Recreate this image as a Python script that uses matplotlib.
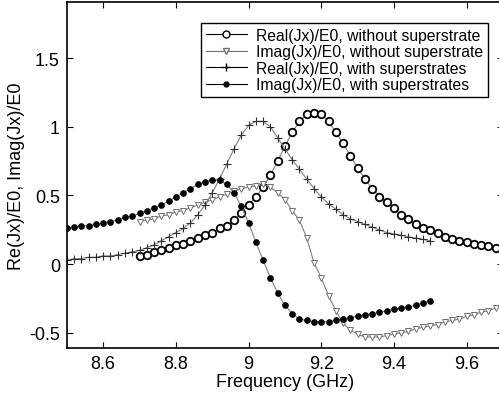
import matplotlib
matplotlib.use('Agg')
import matplotlib.pyplot as plt
from matplotlib.lines import Line2D
import numpy as np

plt.rcParams['font.family'] = ['Liberation Sans', 'DejaVu Sans']

# frequency grids (GHz), 0.02 GHz steps
f_start_wo = 8.70
f_start_w = 8.50
f_step = 0.02

# Real(Jx)/E0 without superstrate, 8.70 .. 9.70
re_wo = [0.06, 0.07, 0.09, 0.10, 0.12, 0.14, 0.15, 0.17, 0.19, 0.21,
         0.23, 0.26, 0.28, 0.32, 0.37, 0.43, 0.49, 0.56, 0.65, 0.75,
         0.86, 0.96, 1.04, 1.09, 1.10, 1.09, 1.04, 0.96, 0.88, 0.79,
         0.70, 0.62, 0.55, 0.49, 0.45, 0.41, 0.36, 0.33, 0.29, 0.26,
         0.25, 0.23, 0.20, 0.18, 0.17, 0.16, 0.15, 0.14, 0.13, 0.12, 0.11]

# Imag(Jx)/E0 without superstrate, 8.70 .. 9.70
im_wo = [0.31, 0.32, 0.33, 0.35, 0.36, 0.38, 0.39, 0.41, 0.43, 0.45,
         0.47, 0.49, 0.51, 0.53, 0.55, 0.56, 0.57, 0.58, 0.56, 0.52,
         0.47, 0.39, 0.32, 0.19, 0.01, -0.10, -0.23, -0.34, -0.43, -0.48,
         -0.51, -0.53, -0.53, -0.53, -0.52, -0.51, -0.50, -0.49, -0.47, -0.46,
         -0.45, -0.44, -0.42, -0.41, -0.40, -0.38, -0.37, -0.35, -0.34, -0.32, -0.31]

# Real(Jx)/E0 with superstrates, 8.50 .. 9.50
re_w = [0.03, 0.04, 0.04, 0.05, 0.05, 0.06, 0.06, 0.07, 0.08, 0.09,
        0.10, 0.12, 0.14, 0.17, 0.20, 0.23, 0.26, 0.30, 0.36, 0.43,
        0.52, 0.62, 0.73, 0.84, 0.94, 1.01, 1.04, 1.04, 1.00, 0.92,
        0.84, 0.76, 0.69, 0.62, 0.55, 0.49, 0.44, 0.40, 0.36, 0.33,
        0.31, 0.29, 0.27, 0.25, 0.23, 0.22, 0.21, 0.20, 0.19, 0.18, 0.17]

# Imag(Jx)/E0 with superstrates, 8.50 .. 9.50
im_w = [0.26, 0.27, 0.28, 0.28, 0.29, 0.30, 0.31, 0.32, 0.34, 0.35,
        0.37, 0.39, 0.41, 0.43, 0.46, 0.49, 0.52, 0.55, 0.58, 0.60,
        0.61, 0.61, 0.58, 0.52, 0.42, 0.30, 0.16, 0.03, -0.10, -0.21,
        -0.30, -0.36, -0.40, -0.41, -0.42, -0.42, -0.42, -0.41, -0.40, -0.39,
        -0.38, -0.37, -0.36, -0.35, -0.34, -0.33, -0.32, -0.31, -0.30, -0.28, -0.27]

labels = ['Real(Jx)/E0, without superstrate',
          'Imag(Jx)/E0, without superstrate',
          'Real(Jx)/E0, with superstrates',
          'Imag(Jx)/E0, with superstrates']

f_wo = f_start_wo + f_step * np.arange(len(re_wo))
f_w = f_start_w + f_step * np.arange(len(re_w))

fig = plt.figure(figsize=(4.99, 4.02), dpi=100)
ax = fig.add_axes([0.134, 0.132, 0.874, 0.861])

line_kw = dict(color='#808080', linewidth=0.8)
ax.plot(f_wo, re_wo, marker='o', markersize=5.4, markerfacecolor='white',
        markeredgecolor='black', markeredgewidth=1.3, **line_kw)
ax.plot(f_wo, im_wo, marker='v', markersize=4.2, markerfacecolor='white',
        markeredgecolor='#707070', markeredgewidth=0.7, **line_kw)
ax.plot(f_w, re_w, marker='+', markersize=5.5, markeredgecolor='#303030',
        markeredgewidth=0.8, **line_kw)
ax.plot(f_w, im_w, marker='o', markersize=3.8, markerfacecolor='black',
        markeredgecolor='black', **line_kw)

ax.set_xlim(8.5, 9.7)
ax.set_ylim(-0.61, 1.91)
ax.set_xticks([8.6, 8.8, 9.0, 9.2, 9.4, 9.6])
ax.set_xticklabels(['8.6', '8.8', '9', '9.2', '9.4', '9.6'])
ax.set_yticks([-0.5, 0, 0.5, 1, 1.5])
ax.set_yticklabels(['-0.5', '0', '0.5', '1', '1.5'])
ax.tick_params(direction='in', length=4, width=0.8, labelsize=13,
               top=True, right=True, pad=5)
for s in ax.spines.values():
    s.set_linewidth(1.2)

ax.set_xlabel('Frequency (GHz)', fontsize=13, labelpad=1)
ax.set_ylabel('Re(Jx)/E0, Imag(Jx)/E0', fontsize=13, labelpad=3)

handles = [
    Line2D([], [], color='black', lw=0.8, marker='o', ms=5,
           mfc='white', mec='black'),
    Line2D([], [], color='#707070', lw=0.8, marker='v', ms=4,
           mfc='white', mec='#707070'),
    Line2D([], [], color='black', lw=0.8, marker='+', ms=6),
    Line2D([], [], color='black', lw=0.8, marker='o', ms=3.5,
           mfc='black', mec='black'),
]
leg = ax.legend(handles, labels, loc='upper left',
                bbox_to_anchor=(0.308, 0.939), fontsize=11.3,
                fancybox=False, edgecolor='black', framealpha=1,
                handlelength=2.6, handletextpad=0.6, borderpad=0.3,
                labelspacing=0.1, borderaxespad=0)
leg.get_frame().set_linewidth(1.0)

plt.savefig('out.png', dpi=100)
plt.close()
